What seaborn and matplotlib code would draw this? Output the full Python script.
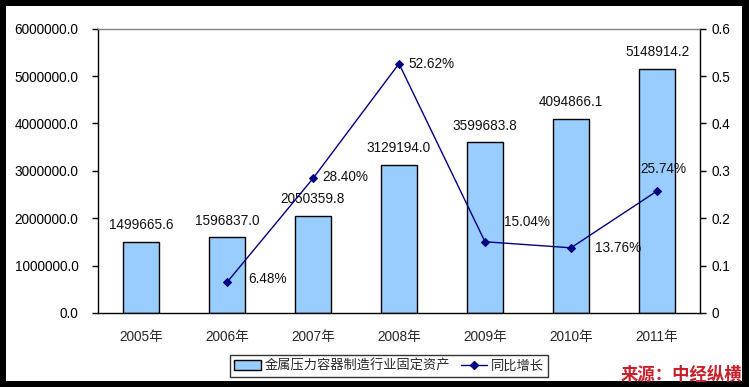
import matplotlib
matplotlib.use('Agg')
import matplotlib.pyplot as plt
import seaborn as sns
from matplotlib.patches import Rectangle, Patch
from matplotlib.lines import Line2D
from matplotlib.ticker import FixedLocator, FuncFormatter

years = ['2005年', '2006年', '2007年', '2008年', '2009年', '2010年', '2011年']
assets = [1499665.6, 1596837.0, 2050359.8, 3129194.0, 3599683.8, 4094866.1, 5148914.2]
growth_years = [1, 2, 3, 4, 5, 6]
growth = [0.0648, 0.2840, 0.5262, 0.1504, 0.1376, 0.2574]
growth_labels = ['6.48%', '28.40%', '52.62%', '15.04%', '13.76%', '25.74%']
# label offsets in pixels relative to the point
label_offsets = [(21, 3), (9, 1), (9, 0), (19, 20), (24, 0), (-17, 22)]

sns.set_style('white')
plt.rcParams['font.family'] = ['Liberation Sans', 'Noto Sans CJK SC', 'DejaVu Sans']
plt.rcParams['font.size'] = 9.8

W, H = 749, 387
fig = plt.figure(figsize=(W / 100, H / 100), dpi=100)
fig.patch.set_facecolor('black')
fig.patches.append(Rectangle((6 / W, 6 / H), 736 / W, 375 / H, transform=fig.transFigure,
                             facecolor='white', edgecolor='none', zorder=-10))

ax = fig.add_axes([98 / W, (H - 313) / H, 602 / W, (313 - 28.7) / H])
ax.patch.set_alpha(0)
sns.barplot(x=years, y=assets, color='#99CCFF', edgecolor='black', linewidth=1,
            width=0.41, saturation=1, ax=ax)
ax.bar_label(ax.containers[0], fmt='%.1f', padding=7, fontsize=9.8, color='#111111')
ax.set_xlim(-0.5, 6.5)
ax.set_ylim(0, 6000000)
ax.set_yticks(range(0, 6000001, 1000000))
ax.yaxis.set_major_formatter(FuncFormatter(lambda v, p: f'{v:.1f}'))
ax.tick_params(axis='y', direction='out', length=4, width=1, pad=10, colors='black', labelsize=9.8)
ax.tick_params(axis='x', length=0, pad=12, labelsize=9.8)
ax.xaxis.set_minor_locator(FixedLocator([i + 0.5 for i in range(6)]))
ax.tick_params(axis='x', which='minor', direction='in', length=4, width=1, color='black')
ax.set_xlabel('')
ax.set_ylabel('')
for s in ['left', 'bottom', 'right']:
    ax.spines[s].set_color('black')
    ax.spines[s].set_linewidth(1)
ax.spines['top'].set_color('#808080')
ax.spines['top'].set_linewidth(1)

ax2 = ax.twinx()
sns.lineplot(x=growth_years, y=growth, color='#000080', marker='D', markersize=4.5,
             linewidth=1, markeredgecolor='#000080', ax=ax2)
ax2.set_ylim(0, 0.6)
ax2.set_yticks([0, 0.1, 0.2, 0.3, 0.4, 0.5, 0.6])
ax2.yaxis.set_major_formatter(FuncFormatter(lambda v, p: '0' if v == 0 else f'{v:.1f}'))
ax2.tick_params(axis='y', direction='out', length=4, width=1, pad=4, colors='black', labelsize=9.8)
ax2.set_ylabel('')
for s in ax2.spines.values():
    s.set_visible(False)
ax.set_xlim(-0.5, 6.5)

for xv, yv, lab, off in zip(growth_years, growth, growth_labels, label_offsets):
    ax2.annotate(lab, (xv, yv), xytext=off, textcoords='offset pixels',
                 ha='left', va='center', fontsize=9.8, color='#111111')

handles = [Patch(facecolor='#99CCFF', edgecolor='black', linewidth=1),
           Line2D([0], [0], color='#000080', marker='D', markersize=4, linewidth=1)]
leg = fig.legend(handles, ['金属压力容器制造行业固定资产', '同比增长'], ncol=2,
                 loc='center', bbox_to_anchor=(389 / W, (H - 366) / H),
                 frameon=True, fancybox=False, edgecolor='black', fontsize=9.5,
                 handlelength=2.0, handletextpad=0.3, columnspacing=0.8,
                 borderpad=0.3)
leg.get_frame().set_linewidth(1)

fig.text(742 / W, (H - 374) / H, '来源：中经纵横', ha='right', va='center',
         color='#C8202A', fontsize=12.5, fontweight='bold', style='italic', zorder=5)

fig.savefig('out.png', dpi=100, facecolor=fig.get_facecolor())
